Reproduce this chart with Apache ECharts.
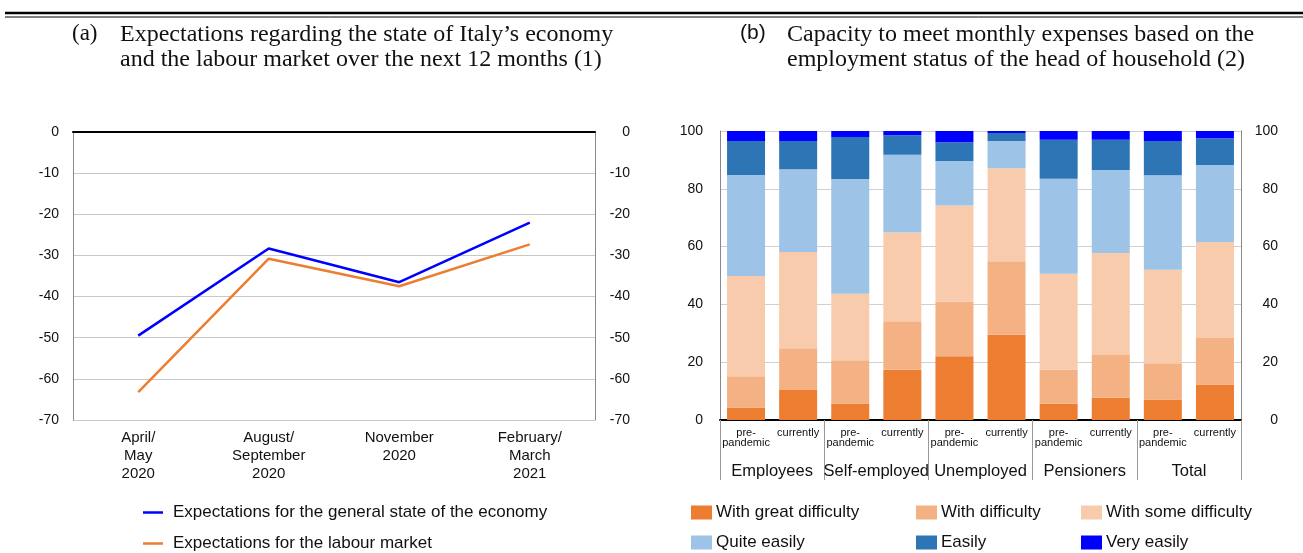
<!DOCTYPE html>
<html>
<head>
<meta charset="utf-8">
<script src="https://cdn.jsdelivr.net/npm/echarts@6/dist/echarts.min.js"></script>
<style>
html,body{margin:0;padding:0;background:#fff;}
#chart{width:1303px;height:553px;}
</style>
</head>
<body>
<div id="chart"></div>
<script>
// ---- Panel (a) data ----
const periods = ['April/\nMay\n2020', 'August/\nSeptember\n2020', 'November\n2020', 'February/\nMarch\n2021'];
const economyExp = [-49.5, -28.3, -36.5, -22.0];
const labourExp = [-63.2, -30.8, -37.5, -27.3];
const leftTicks = [0, -10, -20, -30, -40, -50, -60, -70];

// ---- Panel (b) data ----
const barCats = ['pre-\npandemic', 'currently', 'pre-\npandemic', 'currently', 'pre-\npandemic', 'currently', 'pre-\npandemic', 'currently', 'pre-\npandemic', 'currently'];
const groups = ['Employees', 'Self-employed', 'Unemployed', 'Pensioners', 'Total'];
const greatDifficulty = [4.3, 10.4, 5.7, 17.4, 22.1, 29.5, 5.6, 7.7, 7.1, 12.3];
const withDifficulty  = [10.8, 14.4, 15.0, 16.8, 18.8, 25.4, 11.8, 14.8, 12.5, 16.1];
const someDifficulty  = [34.7, 33.3, 23.0, 30.7, 33.3, 32.2, 33.2, 35.3, 32.4, 33.2];
const quiteEasily     = [35.0, 28.7, 39.7, 26.9, 15.4, 9.4, 32.9, 28.7, 32.7, 26.6];
const easily          = [11.7, 9.7, 14.5, 6.7, 6.5, 2.8, 13.5, 10.5, 11.8, 9.3];
const veryEasily      = [3.5, 3.5, 2.1, 1.5, 3.9, 0.7, 3.0, 3.0, 3.5, 2.5];

const font = '"Liberation Sans", Arial, sans-serif';
const serif = '"Liberation Serif", "Times New Roman", serif';
const txt = '#111';

const chart = echarts.init(document.getElementById('chart'), null, {renderer: 'canvas'});

const lineNames = ['Expectations for the general state of the economy', 'Expectations for the labour market'];
const barNames = ['With great difficulty', 'With difficulty', 'With some difficulty', 'Quite easily', 'Easily', 'Very easily'];
const barData = [greatDifficulty, withDifficulty, someDifficulty, quiteEasily, easily, veryEasily];
const barColors = ['#ED7D31', '#F4B183', '#F8CBAD', '#9DC3E6', '#2E75B6', '#0000FF'];
const legendPos = [[691, 504], [916, 504], [1081, 504], [691, 534], [916, 534], [1081, 534]];

const lineLegends = lineNames.map((n, i) => ({
  data: [n], left: 143, top: 504 + i * 31, icon: 'rect', itemWidth: 20, itemHeight: 2.5,
  selectedMode: false, padding: 0,
  textStyle: {fontFamily: font, fontSize: 17, color: txt, padding: [0, 0, 0, 5]}
}));
const barLegends = barNames.map((n, i) => ({
  data: [n], left: legendPos[i][0], top: legendPos[i][1], orient: 'horizontal',
  icon: 'rect', itemWidth: 21, itemHeight: 14, selectedMode: false, padding: 0,
  textStyle: {fontFamily: font, fontSize: 17, color: txt, padding: [0, 0, 0, -1]}
}));

const option = {
  animation: false,
  backgroundColor: '#fff',
  textStyle: {fontFamily: font},
  graphic: [
    {type: 'line', shape: {x1: 5, y1: 13, x2: 1303, y2: 13}, style: {stroke: '#000', lineWidth: 2.5}},
    {type: 'line', shape: {x1: 5, y1: 17, x2: 1303, y2: 17}, style: {stroke: '#000', lineWidth: 1}},
    {type: 'text', left: 72, top: 22, style: {text: '(a)', font: '23px ' + serif, fill: txt}},
    {type: 'text', left: 120, top: 22, style: {text: 'Expectations regarding the state of Italy’s economy\nand the labour market over the next 12 months (1)', font: '24px ' + serif, fill: txt, lineHeight: 25}},
    {type: 'text', left: 740, top: 23, style: {text: '(b)', font: '21px ' + font, fill: txt}},
    {type: 'text', left: 787, top: 22, style: {text: 'Capacity to meet monthly expenses based on the\nemployment status of the head of household (2)', font: '24px ' + serif, fill: txt, lineHeight: 25}}
  ],
  legend: lineLegends.concat(barLegends),
  grid: [
    {left: 73, top: 132, width: 522, height: 288},
    {left: 720, top: 131, width: 521, height: 289}
  ],
  xAxis: [
    {type: 'category', gridIndex: 0, data: periods, position: 'bottom', boundaryGap: true,
     axisLine: {show: true, lineStyle: {color: '#888', width: 1}}, axisTick: {show: false},
     axisLabel: {fontFamily: font, fontSize: 15, color: txt, lineHeight: 18, margin: 9}},
    {type: 'category', gridIndex: 0, data: periods, position: 'top', offset: 0,
     axisLine: {show: true, lineStyle: {color: '#000', width: 2}}, axisTick: {show: false}, axisLabel: {show: false}},
    {type: 'category', gridIndex: 1, data: barCats, position: 'bottom', offset: 0,
     axisLine: {show: true, lineStyle: {color: '#000', width: 2}}, axisTick: {show: false},
     axisLabel: {fontFamily: font, fontSize: 11, color: txt, lineHeight: 10, margin: 8, interval: 0}},
    {type: 'category', gridIndex: 1, data: groups, position: 'bottom', offset: 0,
     axisLine: {show: false},
     axisTick: {show: true, length: 60, lineStyle: {color: '#999', width: 1}},
     axisLabel: {fontFamily: font, fontSize: 16.5, color: txt, margin: 43, interval: 0}}
  ],
  yAxis: [
    {type: 'value', gridIndex: 0, min: -70, max: 0, interval: 10, position: 'left',
     axisLine: {show: true, lineStyle: {color: '#888'}}, axisTick: {show: false},
     splitLine: {show: true, lineStyle: {color: '#c8c8c8', width: 1}},
     axisLabel: {fontFamily: font, fontSize: 14, color: txt, margin: 14}},
    {type: 'value', gridIndex: 0, min: -70, max: 0, interval: 10, position: 'right',
     axisLine: {show: true, lineStyle: {color: '#888'}}, axisTick: {show: false}, splitLine: {show: false},
     axisLabel: {fontFamily: font, fontSize: 14, color: txt, margin: 35, align: 'right'}},
    {type: 'value', gridIndex: 1, min: 0, max: 100, interval: 20, position: 'left',
     axisLine: {show: true, lineStyle: {color: '#888'}}, axisTick: {show: false},
     splitLine: {show: true, lineStyle: {color: '#d0d0d0', width: 1}},
     axisLabel: {fontFamily: font, fontSize: 14, color: txt, margin: 17}},
    {type: 'value', gridIndex: 1, min: 0, max: 100, interval: 20, position: 'right',
     axisLine: {show: true, lineStyle: {color: '#888'}}, axisTick: {show: false}, splitLine: {show: false},
     axisLabel: {fontFamily: font, fontSize: 14, color: txt, margin: 37, align: 'right'}}
  ],
  series: [
    {name: lineNames[0], type: 'line', xAxisIndex: 0, yAxisIndex: 0,
     data: economyExp, symbol: 'none', lineStyle: {color: '#0000FF', width: 2.5}, itemStyle: {color: '#0000FF'}, z: 4},
    {name: lineNames[1], type: 'line', xAxisIndex: 0, yAxisIndex: 0,
     data: labourExp, symbol: 'none', lineStyle: {color: '#ED7D31', width: 2.5}, itemStyle: {color: '#ED7D31'}, z: 3}
  ].concat(barNames.map((n, i) => ({
    name: n, type: 'bar', stack: 'cap', xAxisIndex: 2, yAxisIndex: 2,
    data: barData[i], barWidth: 38, itemStyle: {color: barColors[i]}
  })))
};

chart.setOption(option);
</script>
</body>
</html>
